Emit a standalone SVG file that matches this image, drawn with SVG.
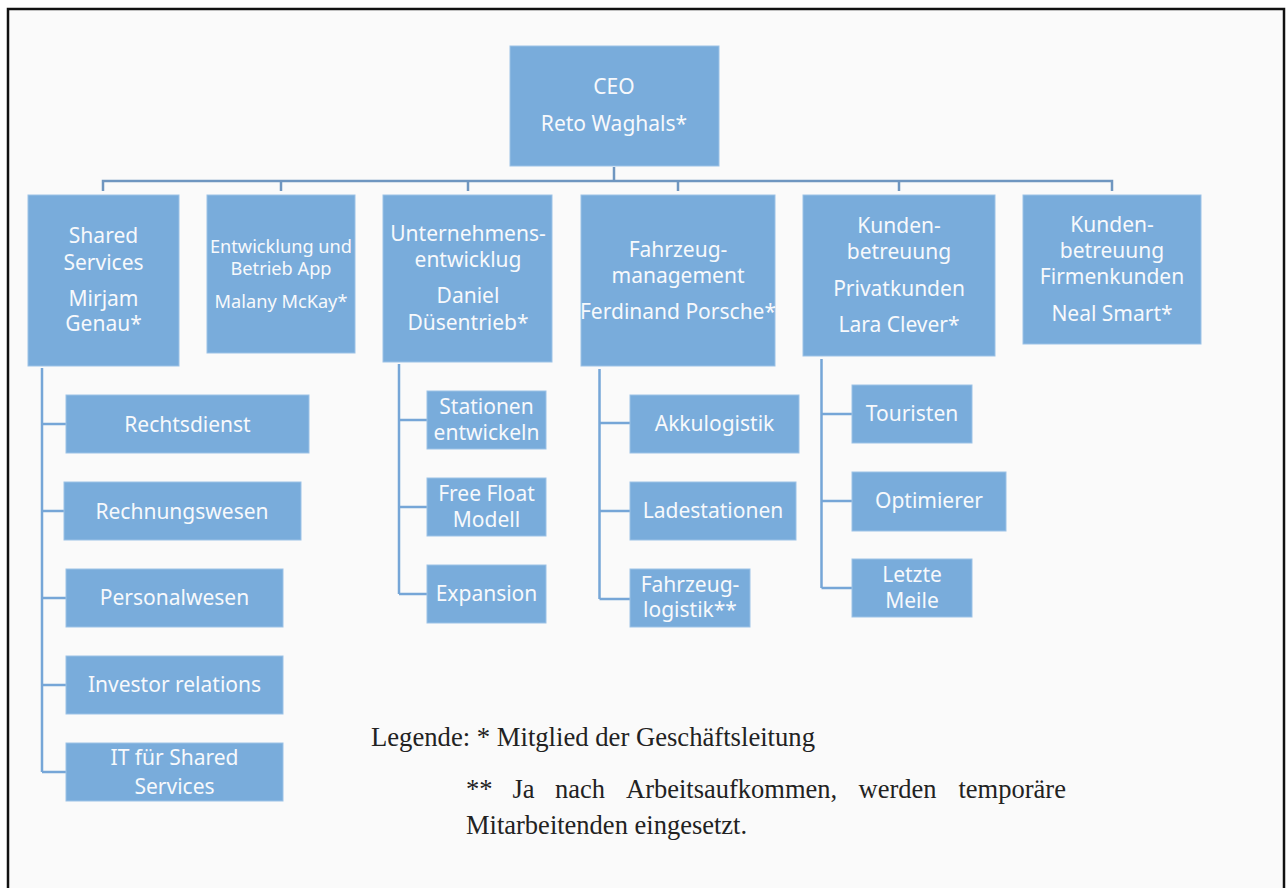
<svg xmlns="http://www.w3.org/2000/svg" width="1287" height="888" viewBox="0 0 1287 888">
<style>
.box{fill:#79acdb;stroke:#9cc2e6;stroke-width:1}
.t{font-family:"Noto Sans","Open Sans",sans-serif;font-size:21px;fill:#f7f9fc;text-anchor:middle}
.s{font-size:18.2px}
.c{fill:none;stroke:#6f96c0;stroke-width:2.5}
.c2{fill:none;stroke:#76a6d7;stroke-width:2.5}
.lg{font-family:"Liberation Serif","Times New Roman",serif;font-size:26.5px;fill:#222}
</style>
<rect x="0" y="0" width="1287" height="888" fill="#ffffff"/>
<rect id="frame" x="8" y="9" width="1276" height="895" fill="#fafafa" stroke="#111" stroke-width="2.5"/>
<g id="connectors">
<path class="c" d="M614 167V181M103 191V181H1112V191M281 181V191M468 181V191M678 181V191M899 181V191"/>
<path class="c2" d="M42 368V772M42 424H66M42 511H64M42 598H66M42 685H66M42 772H66"/>
<path class="c2" d="M399 364V594M399 420H427M399 507H427M399 594H427"/>
<path class="c2" d="M599.5 369V599M599.5 423H630M599.5 511H630M599.5 599H630"/>
<path class="c2" d="M821.5 359V588M821.5 414H852M821.5 501H852M821.5 588H852"/>
</g>
<g id="ceo"><rect class="box" x="510" y="46" width="209" height="120"/><text class="t" x="614" y="94">CEO</text><text class="t" x="614" y="131">Reto Waghals*</text></g>
<g id="shared"><rect class="box" x="28" y="195" width="151" height="171"/><text class="t" x="103.5" y="243">Shared</text><text class="t" x="103.5" y="270">Services</text><text class="t" x="103.5" y="306">Mirjam</text><text class="t" x="103.5" y="331">Genau*</text></g>
<g id="app"><rect class="box" x="207" y="195" width="148" height="158"/><text class="t s" x="281" y="252.5">Entwicklung und</text><text class="t s" x="281" y="275">Betrieb App</text><text class="t s" x="281" y="308">Malany McKay*</text></g>
<g id="unternehmen"><rect class="box" x="383" y="195" width="169" height="167"/><text class="t" x="468" y="241">Unternehmens-</text><text class="t" x="468" y="267">entwicklug</text><text class="t" x="468" y="303">Daniel</text><text class="t" x="468" y="330">Düsentrieb*</text></g>
<g id="fahrzeug"><rect class="box" x="581" y="195" width="194" height="171"/><text class="t" x="678" y="257">Fahrzeug-</text><text class="t" x="678" y="283">management</text><text class="t" x="678" y="319">Ferdinand Porsche*</text></g>
<g id="privat"><rect class="box" x="803" y="195" width="192" height="161"/><text class="t" x="899" y="233">Kunden-</text><text class="t" x="899" y="259">betreuung</text><text class="t" x="899" y="296">Privatkunden</text><text class="t" x="899" y="331.5">Lara Clever*</text></g>
<g id="firmen"><rect class="box" x="1023" y="195" width="178" height="149"/><text class="t" x="1112" y="232">Kunden-</text><text class="t" x="1112" y="258">betreuung</text><text class="t" x="1112" y="284">Firmenkunden</text><text class="t" x="1112" y="321">Neal Smart*</text></g>
<g id="rechtsdienst"><rect class="box" x="66" y="395" width="243" height="58"/><text class="t" x="187.5" y="431.5">Rechtsdienst</text></g>
<g id="rechnungswesen"><rect class="box" x="64" y="482" width="237" height="58"/><text class="t" x="182" y="518.5">Rechnungswesen</text></g>
<g id="personalwesen"><rect class="box" x="66" y="569" width="217" height="58"/><text class="t" x="174.5" y="605">Personalwesen</text></g>
<g id="investor"><rect class="box" x="66" y="656" width="217" height="58"/><text class="t" x="174.5" y="692">Investor relations</text></g>
<g id="it"><rect class="box" x="66" y="743" width="217" height="58"/><text class="t" x="174.5" y="764.5">IT für Shared</text><text class="t" x="174.5" y="794">Services</text></g>
<g id="stationen"><rect class="box" x="427" y="391" width="119" height="58"/><text class="t" x="486.5" y="414">Stationen</text><text class="t" x="486.5" y="440">entwickeln</text></g>
<g id="freefloat"><rect class="box" x="427" y="478" width="119" height="58"/><text class="t" x="486.5" y="501">Free Float</text><text class="t" x="486.5" y="526.5">Modell</text></g>
<g id="expansion"><rect class="box" x="427" y="565" width="119" height="58"/><text class="t" x="486.5" y="601">Expansion</text></g>
<g id="akku"><rect class="box" x="630" y="395" width="169" height="58"/><text class="t" x="714.5" y="431">Akkulogistik</text></g>
<g id="lade"><rect class="box" x="630" y="482" width="166" height="58"/><text class="t" x="713" y="517.5">Ladestationen</text></g>
<g id="fzlogistik"><rect class="box" x="630" y="569" width="120" height="58"/><text class="t" x="690" y="591.5">Fahrzeug-</text><text class="t" x="690" y="616.5">logistik**</text></g>
<g id="touristen"><rect class="box" x="852" y="385" width="120" height="58"/><text class="t" x="912" y="421">Touristen</text></g>
<g id="optimierer"><rect class="box" x="852" y="472" width="154" height="59"/><text class="t" x="929" y="507.5">Optimierer</text></g>
<g id="meile"><rect class="box" x="852" y="559" width="120" height="58"/><text class="t" x="912" y="581.5">Letzte</text><text class="t" x="912" y="608">Meile</text></g>
<g id="legend">
<text class="lg" x="371" y="746" textLength="444" lengthAdjust="spacingAndGlyphs">Legende: * Mitglied der Geschäftsleitung</text>
<text class="lg" y="798"><tspan x="466">**</tspan><tspan x="512.5">Ja</tspan><tspan x="555">nach</tspan><tspan x="626">Arbeitsaufkommen,</tspan><tspan x="858.5">werden</tspan><tspan x="958.5">temporäre</tspan></text>
<text class="lg" x="466" y="834">Mitarbeitenden eingesetzt.</text>
</g>
</svg>
